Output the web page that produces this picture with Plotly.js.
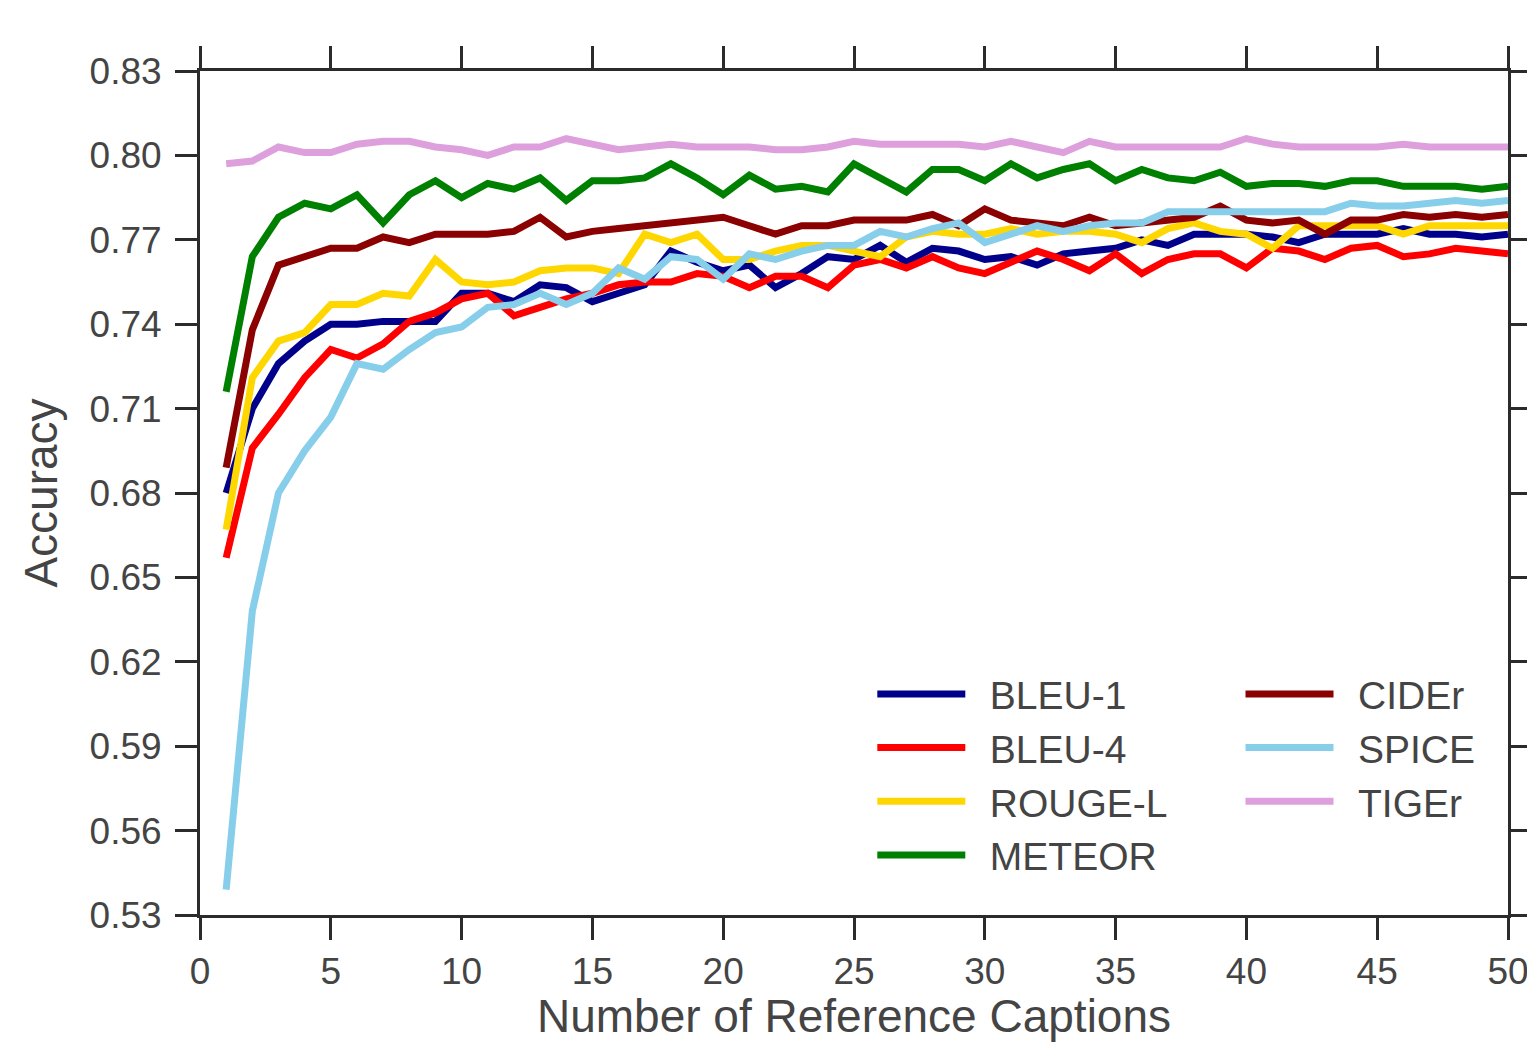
<!DOCTYPE html>
<html>
<head>
<meta charset="utf-8">
<script src="https://cdn.plot.ly/plotly-3.0.1.min.js"></script>
<style>
html,body{margin:0;padding:0;background:#fff;}
#chart{width:1527px;height:1042px;}
</style>
</head>
<body>
<div id="chart"></div>
<script>
const numRefs = [1,2,3,4,5,6,7,8,9,10,11,12,13,14,15,16,17,18,19,20,21,22,23,24,25,26,27,28,29,30,31,32,33,34,35,36,37,38,39,40,41,42,43,44,45,46,47,48,49,50];

const bleu1 = [0.680,0.710,0.726,0.734,0.740,0.740,0.741,0.741,0.741,0.751,0.751,0.748,0.754,0.753,0.748,0.751,0.754,0.766,0.762,0.759,0.761,0.753,0.758,0.764,0.763,0.768,0.762,0.767,0.766,0.763,0.764,0.761,0.765,0.766,0.767,0.770,0.768,0.772,0.772,0.772,0.771,0.769,0.772,0.772,0.772,0.774,0.772,0.772,0.771,0.772];
const bleu4 = [0.657,0.696,0.708,0.721,0.731,0.728,0.733,0.741,0.744,0.749,0.751,0.743,0.746,0.749,0.751,0.754,0.755,0.755,0.758,0.757,0.753,0.757,0.757,0.753,0.761,0.763,0.760,0.764,0.760,0.758,0.762,0.766,0.763,0.759,0.765,0.758,0.763,0.765,0.765,0.760,0.767,0.766,0.763,0.767,0.768,0.764,0.765,0.767,0.766,0.765];
const rougeL = [0.667,0.721,0.734,0.737,0.747,0.747,0.751,0.750,0.763,0.755,0.754,0.755,0.759,0.760,0.760,0.758,0.772,0.769,0.772,0.763,0.763,0.766,0.768,0.768,0.766,0.764,0.771,0.773,0.772,0.772,0.774,0.772,0.773,0.773,0.772,0.769,0.774,0.776,0.773,0.772,0.767,0.775,0.775,0.775,0.775,0.772,0.775,0.775,0.775,0.775];
const meteor = [0.716,0.764,0.778,0.783,0.781,0.786,0.776,0.786,0.791,0.785,0.790,0.788,0.792,0.784,0.791,0.791,0.792,0.797,0.792,0.786,0.793,0.788,0.789,0.787,0.797,0.792,0.787,0.795,0.795,0.791,0.797,0.792,0.795,0.797,0.791,0.795,0.792,0.791,0.794,0.789,0.790,0.790,0.789,0.791,0.791,0.789,0.789,0.789,0.788,0.789];
const cider = [0.689,0.738,0.761,0.764,0.767,0.767,0.771,0.769,0.772,0.772,0.772,0.773,0.778,0.771,0.773,0.774,0.775,0.776,0.777,0.778,0.775,0.772,0.775,0.775,0.777,0.777,0.777,0.779,0.775,0.781,0.777,0.776,0.775,0.778,0.775,0.776,0.777,0.778,0.782,0.777,0.776,0.777,0.772,0.777,0.777,0.779,0.778,0.779,0.778,0.779];
const spice = [0.539,0.638,0.680,0.695,0.707,0.726,0.724,0.731,0.737,0.739,0.746,0.747,0.751,0.747,0.751,0.760,0.756,0.764,0.763,0.756,0.765,0.763,0.766,0.768,0.768,0.773,0.771,0.774,0.776,0.769,0.772,0.775,0.773,0.775,0.776,0.776,0.780,0.780,0.780,0.780,0.780,0.780,0.780,0.783,0.782,0.782,0.783,0.784,0.783,0.784];
const tiger = [0.797,0.798,0.803,0.801,0.801,0.804,0.805,0.805,0.803,0.802,0.800,0.803,0.803,0.806,0.804,0.802,0.803,0.804,0.803,0.803,0.803,0.802,0.802,0.803,0.805,0.804,0.804,0.804,0.804,0.803,0.805,0.803,0.801,0.805,0.803,0.803,0.803,0.803,0.803,0.806,0.804,0.803,0.803,0.803,0.803,0.804,0.803,0.803,0.803,0.803];

const seriesNames = ['BLEU-1','BLEU-4','ROUGE-L','METEOR','CIDEr','SPICE','TIGEr'];
const seriesValues = [bleu1, bleu4, rougeL, meteor, cider, spice, tiger];
const seriesColors = ['#00008B','#FF0000','#FFD700','#008000','#8B0000','#87CEEB','#DDA0DD'];
const seriesLegend = ['legend','legend','legend','legend','legend2','legend2','legend2'];

const xTickVals = [0,5,10,15,20,25,30,35,40,45,50];
const yTickVals = [0.53,0.56,0.59,0.62,0.65,0.68,0.71,0.74,0.77,0.80,0.83];
const yTickText = ['0.53','0.56','0.59','0.62','0.65','0.68','0.71','0.74','0.77','0.80','0.83'];

const FONT = 'Liberation Sans, Arial, Helvetica, sans-serif';
const traces = seriesNames.map((name, i) => ({
  x: numRefs,
  y: seriesValues[i],
  name: '\u2002' + name,
  type: 'scatter',
  mode: 'lines',
  line: {color: seriesColors[i], width: 7},
  legend: seriesLegend[i],
  legendgroup: name
}));

const axisCommon = {
  showline: true, linecolor: '#2b2b2b', linewidth: 3, mirror: 'ticks',
  ticks: 'outside', ticklen: 22, tickwidth: 3, tickcolor: '#2b2b2b',
  showgrid: false, zeroline: false, ticklabeloverflow: 'allow',
  tickfont: {family: FONT, size: 37, color: '#444'}
};

const legendCommon = {
  font: {family: FONT, size: 39, color: '#444'},
  bgcolor: 'rgba(0,0,0,0)', borderwidth: 0,
  xanchor: 'left', yanchor: 'top',
  traceorder: 'grouped', tracegroupgap: 0,
  itemwidth: 88
};

const layout = {
  width: 1527, height: 1042,
  margin: {l: 200, r: 19, t: 71, b: 127},
  paper_bgcolor: '#fff', plot_bgcolor: '#fff',
  showlegend: true,
  xaxis: Object.assign({}, axisCommon, {
    range: [0, 50], tickvals: xTickVals, ticklabelstandoff: 0,
    title: {text: 'Number of Reference Captions', font: {family: FONT, size: 46, color: '#444'}, standoff: 9}
  }),
  yaxis: Object.assign({}, axisCommon, {
    range: [0.53, 0.83], tickvals: yTickVals, ticktext: yTickText, ticklabelstandoff: 6,
    title: {text: 'Accuracy', font: {family: FONT, size: 46, color: '#444'}, standoff: 18}
  }),
  legend: Object.assign({}, legendCommon, {x: 0.514, y: 0.2997}),
  legend2: Object.assign({}, legendCommon, {x: 0.7955, y: 0.2997})
};

Plotly.newPlot('chart', traces, layout, {displayModeBar: false, staticPlot: true});
</script>
</body>
</html>
